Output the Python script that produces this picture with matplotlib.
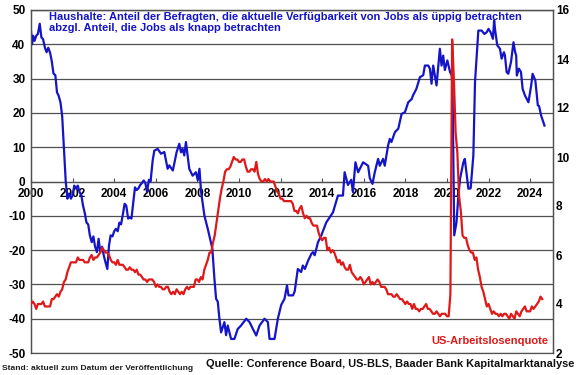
import numpy as np
import matplotlib
matplotlib.use("Agg")
import matplotlib.pyplot as plt

plt.rcParams['font.family'] = ['Liberation Sans', 'DejaVu Sans']
plt.rcParams['font.weight'] = 'bold'
plt.rcParams['axes.unicode_minus'] = False

# US unemployment rate, monthly from Jan 2000 (right axis)
unemployment = [
    4.0,4.1,4.0,3.8,4.0,4.0,4.0,4.1,3.9,3.9,3.9,3.9,
    4.2,4.2,4.3,4.4,4.3,4.5,4.6,4.9,5.0,5.3,5.5,5.7,
    5.7,5.7,5.7,5.9,5.8,5.8,5.8,5.7,5.7,5.7,5.9,6.0,
    5.8,5.9,5.9,6.0,6.1,6.3,6.2,6.1,6.1,6.0,5.8,5.7,
    5.7,5.6,5.8,5.6,5.6,5.6,5.5,5.4,5.4,5.5,5.4,5.4,
    5.3,5.4,5.2,5.2,5.1,5.0,5.0,4.9,5.0,5.0,5.0,4.9,
    4.7,4.8,4.7,4.7,4.6,4.6,4.7,4.7,4.5,4.4,4.5,4.4,
    4.6,4.5,4.4,4.5,4.4,4.6,4.7,4.6,4.7,4.7,4.7,5.0,
    5.0,4.9,5.1,5.0,5.4,5.6,5.8,6.1,6.1,6.5,6.8,7.3,
    7.8,8.3,8.7,9.0,9.4,9.5,9.5,9.6,9.8,10.0,9.9,9.9,
    9.8,9.8,9.9,9.9,9.6,9.4,9.4,9.5,9.5,9.4,9.8,9.3,
    9.1,9.0,9.0,9.1,9.0,9.1,9.0,9.0,9.0,8.8,8.6,8.5,
    8.3,8.3,8.2,8.2,8.2,8.2,8.2,8.1,7.8,7.8,7.7,7.9,
    8.0,7.7,7.5,7.6,7.5,7.5,7.3,7.2,7.2,7.2,6.9,6.7,
    6.6,6.7,6.7,6.2,6.3,6.1,6.2,6.1,5.9,5.7,5.8,5.6,
    5.7,5.5,5.4,5.4,5.6,5.3,5.2,5.1,5.0,5.0,5.1,5.0,
    4.8,4.9,5.0,5.1,4.8,4.9,4.8,4.9,5.0,4.9,4.7,4.7,
    4.7,4.6,4.4,4.4,4.4,4.3,4.3,4.4,4.3,4.2,4.2,4.1,
    4.0,4.1,4.0,4.0,3.8,4.0,3.8,3.8,3.7,3.8,3.8,3.9,
    4.0,3.8,3.8,3.7,3.6,3.6,3.7,3.6,3.5,3.6,3.6,3.6,
    3.5,3.5,4.4,14.8,13.2,11.0,10.2,8.4,7.8,6.8,6.7,6.7,
    6.4,6.2,6.1,6.1,5.8,5.9,5.4,5.1,4.7,4.5,4.2,3.9,
    4.0,3.8,3.6,3.7,3.6,3.6,3.5,3.6,3.5,3.6,3.6,3.5,
    3.4,3.6,3.5,3.4,3.7,3.6,3.5,3.7,3.8,3.9,3.7,3.7,
    3.7,3.9,3.8,3.9,4.0,4.1,4.3,4.2,
]
unemp_dates = 2000 + np.arange(len(unemployment)) / 12.0

# Labour differential (jobs plentiful minus hard to get) (left axis)
diff_dates = [
    2000.00,2000.05,2000.10,2000.17,2000.25,2000.33,2000.42,2000.50,2000.58,2000.67,
    2000.75,2000.83,2000.92,2001.00,2001.08,2001.17,2001.25,2001.33,2001.42,2001.50,
    2001.58,2001.67,2001.75,2001.83,2001.92,2002.00,2002.08,2002.17,2002.25,2002.33,
    2002.42,2002.50,2002.58,2002.67,2002.75,2002.83,2002.92,2003.00,2003.08,2003.17,
    2003.25,2003.33,2003.42,2003.50,2003.58,2003.67,2003.75,2003.83,2003.92,2004.00,
    2004.08,2004.17,2004.25,2004.33,2004.42,2004.50,2004.58,2004.67,2004.75,2004.83,
    2004.92,2005.00,2005.08,2005.17,2005.25,2005.33,2005.42,2005.50,2005.58,2005.67,
    2005.75,2005.85,2005.93,2006.09,2006.25,2006.41,2006.57,2006.65,2006.82,2007.00,
    2007.13,2007.21,2007.29,2007.37,2007.45,2007.61,2007.77,2007.93,2008.02,2008.10,
    2008.18,2008.34,2008.50,2008.72,2008.82,2008.90,2008.98,2009.06,2009.14,2009.30,
    2009.38,2009.46,2009.62,2009.78,2009.94,2010.10,2010.35,2010.51,2010.67,2010.83,
    2010.99,2011.23,2011.39,2011.47,2011.71,2011.87,2012.03,2012.19,2012.31,2012.38,
    2012.60,2012.68,2012.83,2012.99,2013.07,2013.17,2013.33,2013.49,2013.56,2013.64,
    2013.80,2013.96,2014.20,2014.52,2014.76,2015.00,2015.08,2015.24,2015.40,2015.48,
    2015.60,2015.73,2015.97,2016.21,2016.29,2016.42,2016.53,2016.69,2016.77,2016.93,
    2017.01,2017.17,2017.25,2017.33,2017.50,2017.66,2017.82,2017.98,2018.14,2018.30,
    2018.37,2018.53,2018.70,2018.86,2018.94,2019.10,2019.18,2019.26,2019.34,2019.50,
    2019.66,2019.74,2019.82,2019.90,2020.02,2020.15,2020.23,2020.27,2020.35,2020.46,
    2020.54,2020.63,2020.79,2020.86,2021.03,2021.14,2021.27,2021.35,2021.51,2021.67,
    2021.80,2021.91,2022.00,2022.10,2022.21,2022.27,2022.32,2022.42,2022.55,2022.63,
    2022.74,2022.79,2022.87,2022.95,2023.08,2023.20,2023.28,2023.33,2023.36,2023.46,
    2023.56,2023.64,2023.75,2023.92,2024.05,2024.12,2024.25,2024.37,2024.43,2024.53,
    2024.69,
]
diff_values = [
    44.0,40.0,42.5,41.0,42.5,43.0,46.0,42.0,41.5,39.0,
    37.7,39.0,37.5,35.0,31.5,31.0,26.0,25.0,23.0,19.0,
    10.0,0.0,-5.0,-3.5,-5.0,-4.0,-1.2,-2.0,-1.2,-3.0,
    -4.0,-7.0,-9.0,-12.0,-12.5,-15.7,-17.7,-16.0,-19.0,-20.6,
    -16.7,-20.5,-19.0,-21.6,-23.5,-25.5,-18.7,-15.7,-16.0,-14.5,
    -13.8,-14.5,-12.0,-12.5,-9.5,-6.5,-7.0,-10.8,-10.5,-10.8,
    -6.0,-1.7,-2.5,-2.0,-1.0,-0.5,0.3,-0.5,-3.0,0.5,
    0.0,6.1,9.0,9.5,8.1,8.6,3.7,4.7,3.2,8.5,
    11.0,8.5,9.5,7.6,11.5,3.7,1.7,2.7,0.4,3.7,
    -3.1,-10.0,-13.8,-19.6,-28.4,-34.2,-35.0,-40.0,-44.0,-41.0,
    -44.8,-42.0,-45.9,-45.9,-43.0,-42.0,-40.0,-41.0,-43.0,-44.9,
    -42.0,-40.0,-41.0,-45.9,-45.9,-40.0,-36.0,-34.2,-30.3,-33.2,
    -33.2,-32.0,-25.5,-26.4,-24.5,-25.5,-23.0,-21.0,-20.6,-21.5,
    -17.7,-15.7,-11.9,-9.0,-4.1,-4.1,2.7,-1.0,0.5,-3.1,
    5.6,2.7,5.6,4.6,1.0,-0.7,2.7,6.6,4.6,6.6,
    4.6,10.5,12.4,11.5,14.4,15.4,19.7,20.2,23.1,24.0,
    25.1,27.0,30.4,31.0,33.8,33.8,32.9,28.5,33.8,28.0,
    38.7,33.8,36.7,32.5,35.3,31.9,31.0,27.0,-15.7,-11.9,
    -5.0,0.8,5.6,6.6,-2.1,-2.0,7.6,29.0,44.0,44.0,
    43.0,43.5,44.5,43.5,41.6,47.0,44.0,39.7,38.7,35.8,
    37.7,36.7,31.9,31.4,34.8,40.6,37.7,36.7,30.9,32.9,
    31.9,27.0,25.1,23.1,28.0,31.4,29.5,22.2,22.0,19.2,
    16.3,
]

year_ticks = list(range(2000, 2025, 2))
left_ticks = list(range(-50, 51, 10))
right_ticks = list(range(2, 17, 2))

blue = '#1414C8'
red = '#E01818'
grid_c = '#505050'

fig = plt.figure(figsize=(5.8, 3.75), dpi=100)
ax = fig.add_axes([31/580, 1-353/375, (553-31)/580, (353-10)/375])
ax2 = ax.twinx()

ax.plot(diff_dates, diff_values, color=blue, lw=1.6, zorder=3)
ax2.plot(unemp_dates, unemployment, color=red, lw=1.6, zorder=3)

ax.set_xlim(2000, 2025.1)
ax.set_ylim(-50, 50)
ax2.set_ylim(2, 16)

ax.set_yticks(left_ticks)
ax2.set_yticks(right_ticks)
ax.set_xticks(year_ticks)
ax.set_xticklabels([str(y) for y in year_ticks])

ax.grid(axis='y', color=grid_c, lw=0.9)
ax.set_axisbelow(True)

for sp in ['left', 'right', 'top']:
    ax.spines[sp].set_color(grid_c)
    ax.spines[sp].set_linewidth(0.9)
    ax2.spines[sp].set_color(grid_c)
    ax2.spines[sp].set_linewidth(0.9)
ax.spines['bottom'].set_position(('data', 0))
ax.spines['bottom'].set_color(grid_c)
ax.spines['bottom'].set_linewidth(0.9)
ax2.spines['bottom'].set_visible(False)
ax.axhline(-50, color=grid_c, lw=0.9, clip_on=False)

ax.tick_params(axis='x', direction='in', length=3, width=0.8, color=grid_c,
               labelsize=8.5, pad=5)
ax.tick_params(axis='y', length=0, labelsize=8.5, pad=4)
ax2.tick_params(axis='y', length=0, labelsize=8.5, pad=2)
for lab in ax.get_xticklabels() + ax.get_yticklabels() + ax2.get_yticklabels():
    lab.set_fontweight('bold')

fig.text(49/580, 1-12/375,
         "Haushalte: Anteil der Befragten, die aktuelle Verfügbarkeit von Jobs als üppig betrachten\n"
         "abzgl. Anteil, die Jobs als knapp betrachten",
         color=blue, fontsize=8.0, fontweight='bold', va='top', ha='left', linespacing=1.1)

fig.text(548/580, 1-341/375, "US-Arbeitslosenquote", color=red, fontsize=8,
         fontweight='bold', ha='right', va='center')

fig.text(2/580, 1-368/375, "Stand: aktuell zum Datum der Veröffentlichung",
         fontsize=6.1, fontweight='bold', ha='left', va='center', color='#202020')
fig.text(574/580, 1-364/375, "Quelle: Conference Board, US-BLS, Baader Bank Kapitalmarktanalyse",
         fontsize=7.95, fontweight='bold', ha='right', va='center', color='#101010')

fig.savefig('out.png', dpi=100)
